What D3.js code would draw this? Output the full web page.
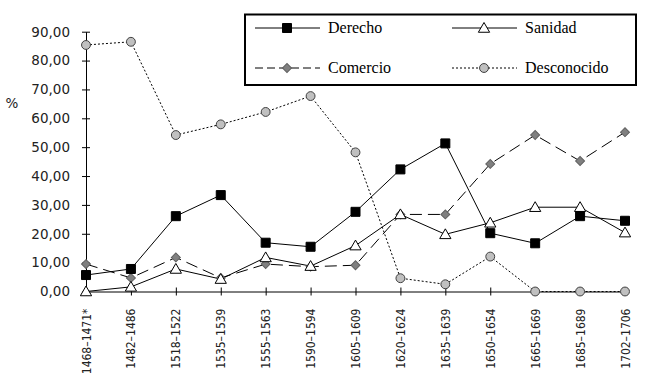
<!DOCTYPE html>
<html>
<head>
<meta charset="utf-8">
<script src="https://cdn.jsdelivr.net/npm/d3@7"></script>
<style>
  body { margin: 0; background: #fff; }
  svg { display: block; }
</style>
</head>
<body>
<div id="chart"></div>
<script>
// periods on the x axis
const periods = ["1468–1471*", "1482–1486", "1518–1522", "1535–1539", "1555–1563", "1590–1594",
  "1605–1609", "1620–1624", "1635–1639", "1650–1654", "1665–1669", "1685–1689", "1702–1706"];

// % per group
const derecho     = [5.7, 7.8, 26.1, 33.4, 16.9, 15.5, 27.6, 42.3, 51.3, 20.2, 16.7, 26.1, 24.5];
const sanidad     = [0.0, 1.6, 7.8, 4.3, 11.8, 8.8, 15.9, 26.7, 19.8, 23.8, 29.2, 29.2, 20.4];
const comercio    = [9.5, 4.7, 11.8, 4.7, 9.5, 8.6, 9.1, 26.7, 26.7, 44.2, 54.2, 45.2, 55.2];
const desconocido = [85.4, 86.5, 54.2, 57.9, 62.2, 67.7, 48.2, 4.6, 2.5, 12.1, 0.0, 0.0, 0.0];

const yTicks = [0, 10, 20, 30, 40, 50, 60, 70, 80, 90];

const width = 649, height = 386;
const margin = {top: 31.7, right: 24, bottom: 94.5, left: 86};

const svg = d3.select("#chart").append("svg")
  .attr("width", width)
  .attr("height", height);

const x = d3.scalePoint()
  .domain(periods)
  .range([margin.left, width - margin.right]);

const y = d3.scaleLinear()
  .domain([0, 90])
  .range([height - margin.bottom, margin.top]);

const fmt = v => d3.format(".2f")(v).replace(".", ",");

// y axis
const yAxis = svg.append("g")
  .attr("transform", `translate(${margin.left},0)`)
  .call(d3.axisLeft(y).tickValues(yTicks).tickFormat(fmt).tickSizeOuter(0).tickSizeInner(4).tickPadding(12));
yAxis.selectAll(".tick line").attr("x2", 4).attr("x1", -4);
yAxis.select(".domain").attr("stroke", "#000");
yAxis.selectAll("text")
  .attr("font-family", "DejaVu Sans")
  .attr("font-size", 13.5)
  .attr("fill", "#222");

svg.append("text")
  .attr("x", 12).attr("y", 108)
  .attr("text-anchor", "middle")
  .attr("font-family", "DejaVu Sans")
  .attr("font-size", 13.5)
  .attr("fill", "#222")
  .text("%");

// x axis
const xAxis = svg.append("g")
  .attr("transform", `translate(0,${y(0)})`)
  .call(d3.axisBottom(x).tickSizeOuter(0).tickSizeInner(4));
xAxis.selectAll(".tick line").attr("y1", -4).attr("y2", 4);
xAxis.select(".domain").attr("stroke", "#000");
xAxis.selectAll("text")
  .attr("font-family", "'Liberation Sans Narrow', 'DejaVu Sans Condensed', sans-serif")
  .attr("font-size", 12)
  .attr("fill", "#222")
  .attr("text-anchor", "end")
  .attr("dy", null)
  .attr("transform", "translate(0,17) rotate(-90)")
  .attr("x", 0).attr("y", 0)
  .attr("dominant-baseline", "central");

const series = [
  {name: "Comercio", values: comercio, dash: "12,6", marker: "diamond"},
  {name: "Desconocido", values: desconocido, dash: "2,2", marker: "circle"},
  {name: "Sanidad", values: sanidad, dash: null, marker: "triangle"},
  {name: "Derecho", values: derecho, dash: null, marker: "square"}
];

const markerDef = {
  square:   {sym: d3.symbolSquare, size: 81, fill: "#000", stroke: "#000", rot: 0},
  triangle: {sym: d3.symbolTriangle, size: 55, fill: "#fff", stroke: "#000", rot: 0},
  diamond:  {sym: d3.symbolSquare, size: 40, fill: "#808080", stroke: "#606060", rot: 45},
  circle:   {sym: d3.symbolCircle, size: 62, fill: "#c0c0c0", stroke: "#404040", rot: 0}
};

function drawMarker(g, kind, cx, cy) {
  const m = markerDef[kind];
  g.append("path")
    .attr("d", d3.symbol().type(m.sym).size(m.size)())
    .attr("transform", `translate(${cx},${cy + (kind === "triangle" ? 1 : 0)}) rotate(${m.rot})`)
    .attr("fill", m.fill)
    .attr("stroke", m.stroke)
    .attr("stroke-width", 1);
}

const line = d3.line()
  .x((d, i) => x(periods[i]))
  .y(d => y(d));

const plot = svg.append("g");
series.forEach(s => {
  plot.append("path")
    .attr("d", line(s.values))
    .attr("fill", "none")
    .attr("stroke", "#000")
    .attr("stroke-width", 1)
    .attr("stroke-dasharray", s.dash);
});
series.forEach(s => {
  const g = plot.append("g");
  s.values.forEach((v, i) => drawMarker(g, s.marker, x(periods[i]), y(v)));
});

// legend
const legend = svg.append("g");
legend.append("rect")
  .attr("x", 245).attr("y", 14.5)
  .attr("width", 391).attr("height", 70.5)
  .attr("fill", "#fff")
  .attr("stroke", "#000")
  .attr("stroke-width", 2);

const legendItems = [
  {name: "Derecho", marker: "square", dash: null, lx: 255, ly: 28},
  {name: "Sanidad", marker: "triangle", dash: null, lx: 452, ly: 28},
  {name: "Comercio", marker: "diamond", dash: "8,4", lx: 255, ly: 68},
  {name: "Desconocido", marker: "circle", dash: "2,2", lx: 452, ly: 68}
];
legendItems.forEach(it => {
  legend.append("line")
    .attr("x1", it.lx).attr("x2", it.lx + 65)
    .attr("y1", it.ly).attr("y2", it.ly)
    .attr("stroke", "#000")
    .attr("stroke-width", 1)
    .attr("stroke-dasharray", it.dash);
  drawMarker(legend, it.marker, it.lx + 32, it.ly);
  legend.append("text")
    .attr("x", it.lx + 73).attr("y", it.ly + 5)
    .attr("font-family", "Liberation Serif")
    .attr("font-size", 16)
    .text(it.name);
});
</script>
</body>
</html>
